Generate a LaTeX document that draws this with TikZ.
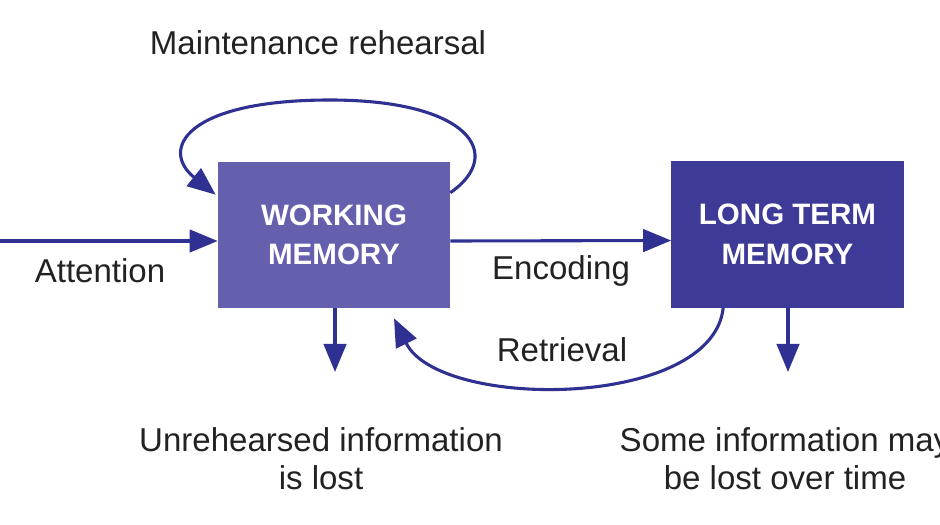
\documentclass[tikz,border=0pt]{standalone}
\usepackage{fontspec}
\setmainfont{Liberation Sans}
\usetikzlibrary{arrows.meta,positioning}
\definecolor{wmfill}{HTML}{6560AE}
\definecolor{ltmfill}{HTML}{3D3B97}
\definecolor{flow}{HTML}{2E3192}
\definecolor{ink}{HTML}{222222}

\begin{document}
\begin{tikzpicture}[x=0.025cm,y=-0.025cm,>={Triangle[length=20pt,width=16pt]}]
\useasboundingbox (0,0) rectangle (940,525);
\tikzset{
  membox/.style={minimum width=5.8cm,minimum height=3.65cm,align=center,text=white,font=\fontsize{21}{28}\selectfont\bfseries,inner sep=0pt},
  flowline/.style={draw=flow,line width=2.2pt,->},
  lbl/.style={text=ink,font=\fontsize{23.5}{27}\selectfont,align=center,inner sep=0pt}
}
\node[membox,fill=wmfill] (wm) at (334,235) {WORKING\\MEMORY};
\node[membox,fill=ltmfill] (ltm) at (787.5,234.5) {LONG TERM\\MEMORY};
\coordinate (in) at (0,241);
\coordinate (wmlost) at (335,372);
\coordinate (ltmlost) at (788,372);
% labels
\node[lbl] (maint) at (318,43) {Maintenance rehearsal};
\node[lbl] (att) at (100,271) {Attention};
\node[lbl] (enc) at (561,271) {Encoding};
\node[lbl] (retr) at (562,350) {Retrieval};
\node[lbl] (unreh) at (321,459) {Unrehearsed information\\is lost};
\node[lbl] (some) at (785,459) {Some information may\\be lost over time};
% connectors
\draw[flowline] (in) -- (in -| wm.west);
\draw[flowline] ([yshift=-0.15cm]wm.east) -- ([yshift=-0.15cm]ltm.west);
\draw[flowline] (wm.south -| wmlost) -- (wmlost);
\draw[flowline] (ltm.south -| ltmlost) -- (ltmlost);
\draw[flowline] ([yshift=-0.775cm]wm.north east) .. controls +(55,-38) and +(140,0) .. (330,100)
  .. controls +(-145,0) and +(-56,-45) .. ([xshift=-0.05cm,yshift=-0.825cm]wm.north west);
\draw[flowline] ([xshift=1.3cm]ltm.south west) .. controls +(-11,102) and +(45,92) .. ([xshift=1.5cm,yshift=-0.25cm]wm.south);
\end{tikzpicture}
\end{document}
